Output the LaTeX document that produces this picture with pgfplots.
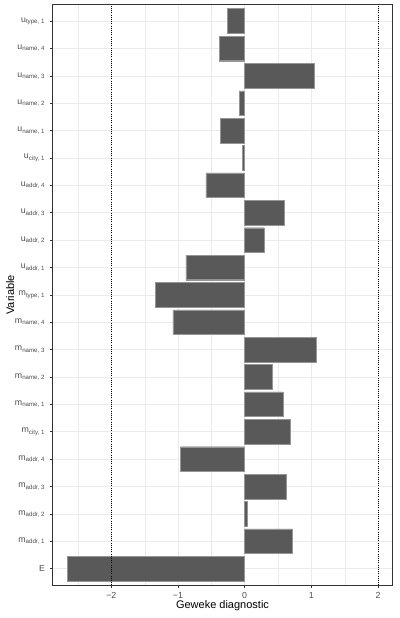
\documentclass[border=0pt]{standalone}
\usepackage{fontspec}
\setmainfont{Liberation Sans}
\usepackage{pgfplots}
\pgfplotsset{compat=1.18}
\definecolor{barfill}{RGB}{89,89,89}
\definecolor{baredge}{RGB}{150,150,150}
\definecolor{gridcol}{RGB}{235,235,235}
\definecolor{gtext}{RGB}{77,77,77}
\definecolor{gframe}{RGB}{51,51,51}
\begin{document}
\begin{tikzpicture}
\useasboundingbox (-52.3pt,-33pt) rectangle (346.7pt,585pt);
\begin{axis}[
  scale only axis,
  width=340.4pt, height=580.4pt,
  xmin=-2.885, xmax=2.22,
  ymin=-0.6, ymax=20.6,
  xtick={-2,-1,0,1,2},
  xticklabels={−2,−1,0,1,2},
  minor xtick={-2.5,-1.5,-0.5,0.5,1.5},
  ytick={0,...,20},
  yticklabels={E,
    m\textsubscript{addr, 1},m\textsubscript{addr, 2},m\textsubscript{addr, 3},m\textsubscript{addr, 4},
    m\textsubscript{city, 1},
    m\textsubscript{name, 1},m\textsubscript{name, 2},m\textsubscript{name, 3},m\textsubscript{name, 4},
    m\textsubscript{type, 1},
    u\textsubscript{addr, 1},u\textsubscript{addr, 2},u\textsubscript{addr, 3},u\textsubscript{addr, 4},
    u\textsubscript{city, 1},
    u\textsubscript{name, 1},u\textsubscript{name, 2},u\textsubscript{name, 3},u\textsubscript{name, 4},
    u\textsubscript{type, 1}},
  tick align=outside,
  major tick length=2.75pt,
  minor tick length=0pt,
  tick style={gframe, line width=0.53pt},
  xtick pos=bottom, ytick pos=left,
  axis line style={gframe, line width=1pt},
  xmajorgrids, ymajorgrids, xminorgrids,
  major grid style={gridcol, line width=0.53pt},
  minor grid style={gridcol, line width=0.27pt},
  tick label style={font=\fontsize{8.8}{10}\selectfont, text=gtext},
  xticklabel style={yshift=-1pt},
  yticklabel style={xshift=-1pt},
  xlabel={Geweke diagnostic},
  ylabel={Variable},
  label style={font=\fontsize{11}{13}\selectfont},
  xlabel style={at={(axis description cs:0.5,-0.0362)}, anchor=center},
  ylabel style={at={(axis description cs:-0.1234,0.5)}, anchor=center},
]
\addplot[xbar, bar width=0.9, fill=barfill, draw=baredge, line width=0.4pt] coordinates {
  (-2.655,0) (0.715,1) (0.04,2) (0.62,3) (-0.965,4) (0.685,5)
  (0.575,6) (0.41,7) (1.07,8) (-1.075,9) (-1.34,10)
  (-0.88,11) (0.29,12) (0.60,13) (-0.58,14) (-0.03,15)
  (-0.36,16) (-0.085,17) (1.05,18) (-0.375,19) (-0.26,20)
};
\addplot[black, dash pattern=on 0.6pt off 1.6pt, line width=0.6pt] coordinates {(-2,-0.6) (-2,20.6)};
\addplot[black, dash pattern=on 0.6pt off 1.6pt, line width=0.6pt] coordinates {(2,-0.6) (2,20.6)};
\end{axis}
\end{tikzpicture}
\end{document}
